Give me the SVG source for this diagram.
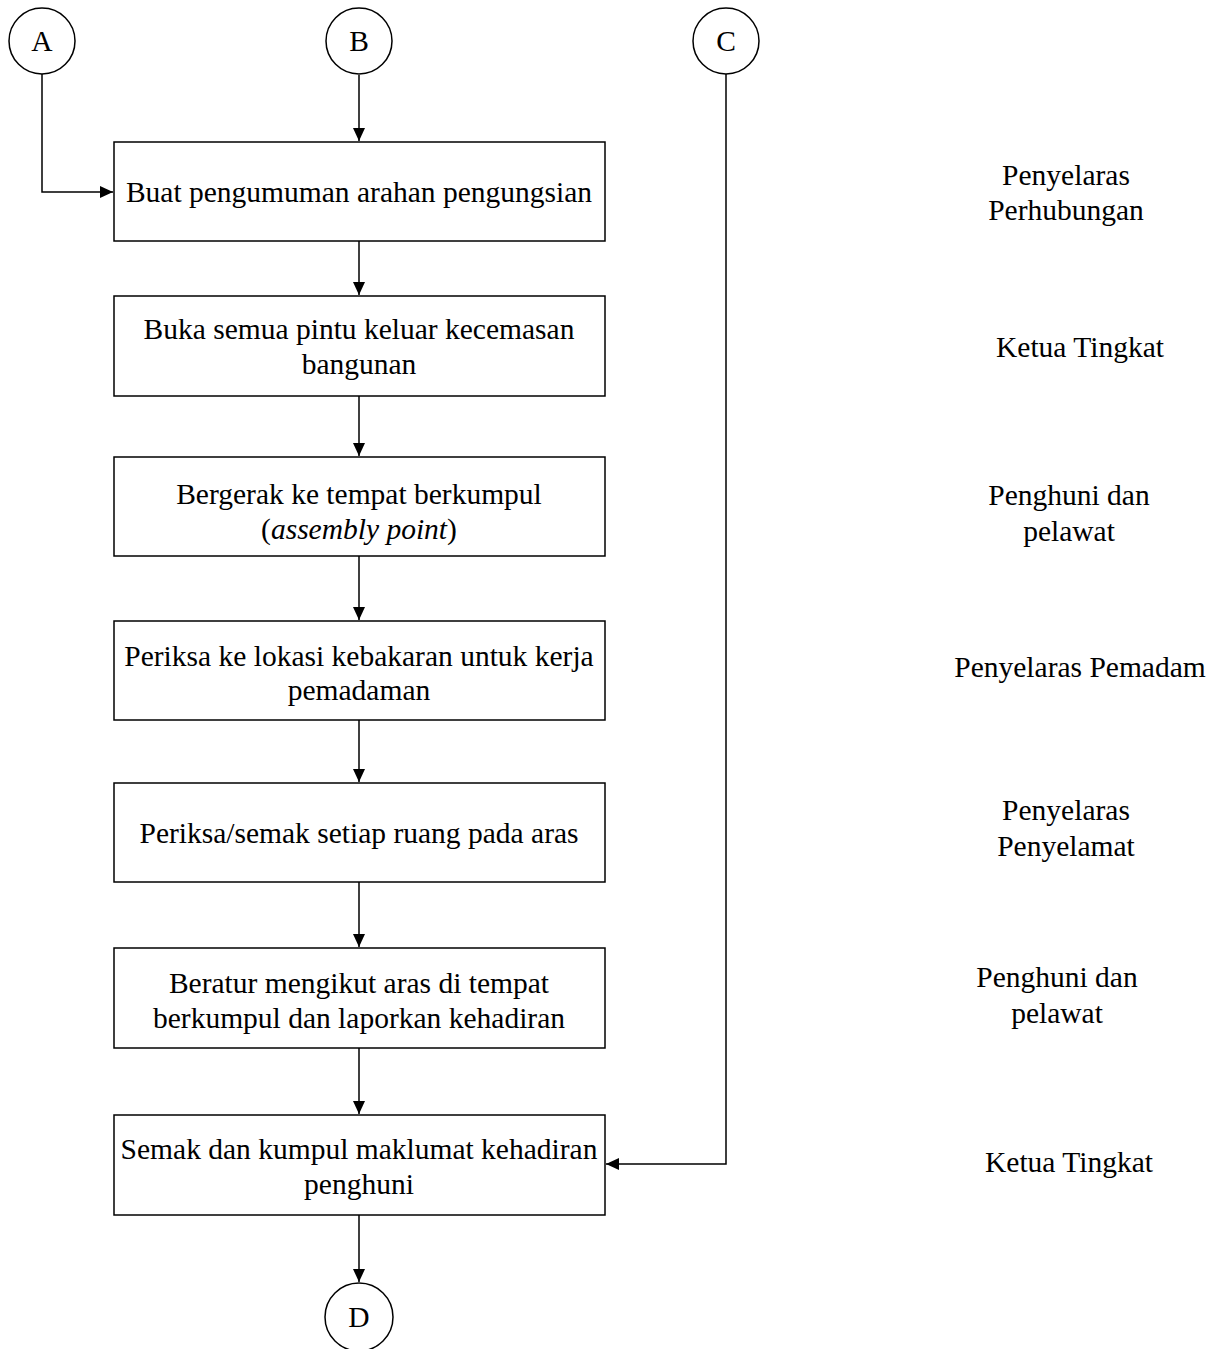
<svg xmlns="http://www.w3.org/2000/svg" width="1217" height="1349" viewBox="0 0 1217 1349">
<style>
.box{fill:#fff;stroke:#000;stroke-width:1.5}
.circ{fill:#fff;stroke:#000;stroke-width:1.5}
.t{font-family:"Liberation Serif","Times New Roman",serif;font-size:29.5px;fill:#000;text-anchor:middle}
.c{fill:none;stroke:#000;stroke-width:1.5}
</style>
<defs>
<marker id="arr" viewBox="0 0 13 12" refX="13" refY="6" markerWidth="13" markerHeight="12" markerUnits="userSpaceOnUse" orient="auto">
<path d="M0,0 L13,6 L0,12 Z" fill="#000"/>
</marker>
</defs>
<g id="connectors">
<path class="c" d="M42,74 V192 H113" marker-end="url(#arr)"/>
<path class="c" d="M359,75 V141" marker-end="url(#arr)"/>
<path class="c" d="M359,241 V295" marker-end="url(#arr)"/>
<path class="c" d="M359,396 V456" marker-end="url(#arr)"/>
<path class="c" d="M359,556 V620" marker-end="url(#arr)"/>
<path class="c" d="M359,720 V782" marker-end="url(#arr)"/>
<path class="c" d="M359,882 V947" marker-end="url(#arr)"/>
<path class="c" d="M359,1048 V1114" marker-end="url(#arr)"/>
<path class="c" d="M726,74 V1164 H606" marker-end="url(#arr)"/>
<path class="c" d="M359,1215 V1282" marker-end="url(#arr)"/>
</g>
<g id="nodeA"><circle class="circ" cx="42" cy="41" r="33"/><text class="t" x="42" y="51">A</text></g>
<g id="nodeB"><circle class="circ" cx="359" cy="41" r="33"/><text class="t" x="359" y="51">B</text></g>
<g id="nodeC"><circle class="circ" cx="726" cy="41" r="33"/><text class="t" x="726" y="51">C</text></g>
<g id="nodeD"><circle class="circ" cx="359" cy="1317" r="34"/><text class="t" x="359" y="1327">D</text></g>
<g id="box1"><rect class="box" x="114" y="142" width="491" height="99"/><text class="t" x="359" y="202">Buat pengumuman arahan pengungsian</text></g>
<g id="box2"><rect class="box" x="114" y="296" width="491" height="100"/><text class="t" x="359" y="339">Buka semua pintu keluar kecemasan</text><text class="t" x="359" y="374">bangunan</text></g>
<g id="box3"><rect class="box" x="114" y="457" width="491" height="99"/><text class="t" x="359" y="504">Bergerak ke tempat berkumpul</text><text class="t" x="359" y="539">(<tspan font-style="italic">assembly point</tspan>)</text></g>
<g id="box4"><rect class="box" x="114" y="621" width="491" height="99"/><text class="t" x="359" y="666">Periksa ke lokasi kebakaran untuk kerja</text><text class="t" x="359" y="700">pemadaman</text></g>
<g id="box5"><rect class="box" x="114" y="783" width="491" height="99"/><text class="t" x="359" y="843">Periksa/semak setiap ruang pada aras</text></g>
<g id="box6"><rect class="box" x="114" y="948" width="491" height="100"/><text class="t" x="359" y="993">Beratur mengikut aras di tempat</text><text class="t" x="359" y="1028">berkumpul dan laporkan kehadiran</text></g>
<g id="box7"><rect class="box" x="114" y="1115" width="491" height="100"/><text class="t" x="359" y="1159">Semak dan kumpul maklumat kehadiran</text><text class="t" x="359" y="1194">penghuni</text></g>
<g id="roles">
<text class="t" x="1066" y="185">Penyelaras</text><text class="t" x="1066" y="220">Perhubungan</text>
<text class="t" x="1080" y="357">Ketua Tingkat</text>
<text class="t" x="1069" y="505">Penghuni dan</text><text class="t" x="1069" y="541">pelawat</text>
<text class="t" x="1080" y="677">Penyelaras Pemadam</text>
<text class="t" x="1066" y="820">Penyelaras</text><text class="t" x="1066" y="856">Penyelamat</text>
<text class="t" x="1057" y="987">Penghuni dan</text><text class="t" x="1057" y="1023">pelawat</text>
<text class="t" x="1069" y="1172">Ketua Tingkat</text>
</g>
</svg>
